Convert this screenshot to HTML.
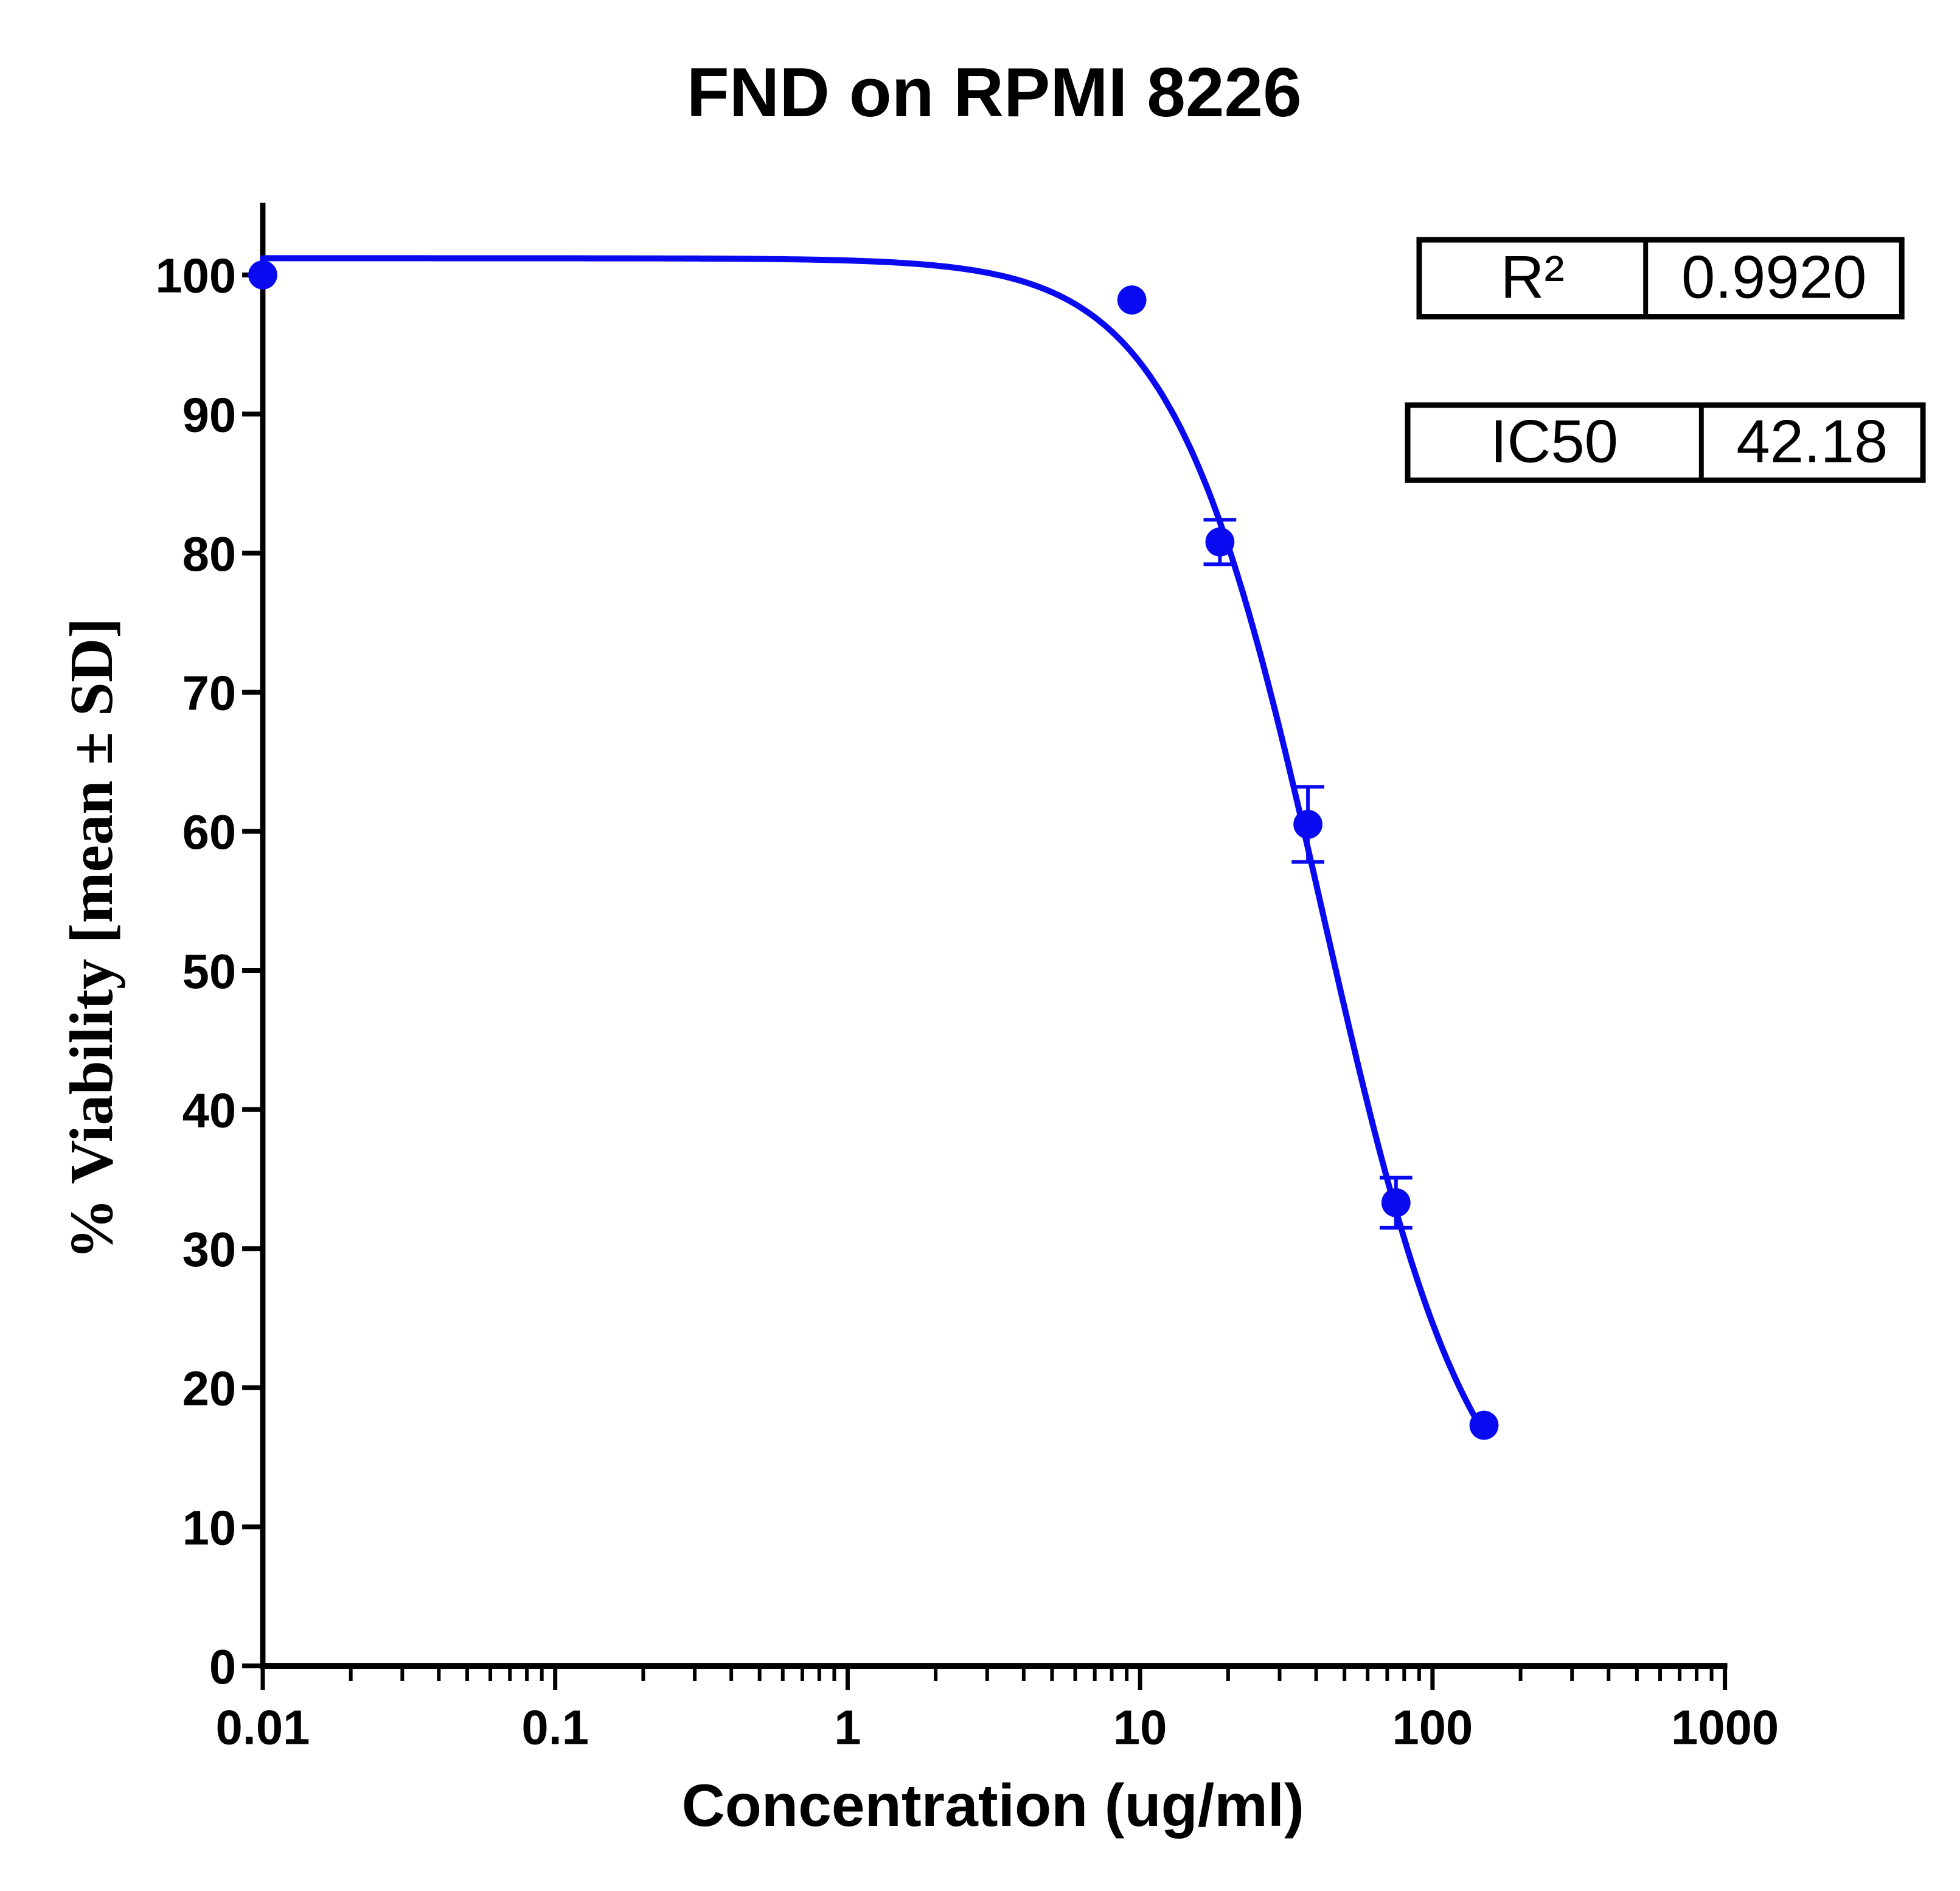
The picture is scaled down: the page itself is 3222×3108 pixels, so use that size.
<!DOCTYPE html>
<html><head><meta charset="utf-8"><style>
html,body{margin:0;padding:0;background:#fff}
svg{display:block}
</style></head><body>
<svg id="chart" xmlns="http://www.w3.org/2000/svg" width="3222" height="3108" viewBox="0 0 3222 3108">
<rect width="3222" height="3108" fill="#fff"/>
<g transform="scale(0.9953)">
<text x="1642" y="192" text-anchor="middle" font-family="Liberation Sans, sans-serif" font-weight="bold" font-size="115">FND on RPMI 8226</text>
<text transform="translate(185,1550) rotate(-90)" text-anchor="middle" font-family="Liberation Serif, serif" font-weight="bold" font-size="101">% Viability [mean ± SD]</text>
<text x="1640" y="3015" text-anchor="middle" font-family="Liberation Sans, sans-serif" font-weight="bold" font-size="99">Concentration (ug/ml)</text>
<g id="axes"></g>
<g id="marks"></g>
<g>
<rect x="2344" y="396" width="797" height="127" fill="none" stroke="#000" stroke-width="9"/>
<line x1="2718" y1="396" x2="2718" y2="523" stroke="#000" stroke-width="8"/>
<text x="2531" y="492" text-anchor="middle" font-family="Liberation Sans, sans-serif" font-size="100">R²</text>
<text x="2930" y="492" text-anchor="middle" font-family="Liberation Sans, sans-serif" font-size="100">0.9920</text>
</g>
<g>
<rect x="2325" y="669" width="851" height="124" fill="none" stroke="#000" stroke-width="9"/>
<line x1="2810" y1="669" x2="2810" y2="793" stroke="#000" stroke-width="8"/>
<text x="2567" y="763" text-anchor="middle" font-family="Liberation Sans, sans-serif" font-size="100">IC50</text>
<text x="2993" y="763" text-anchor="middle" font-family="Liberation Sans, sans-serif" font-size="100">42.18</text>
</g>
</g>
</svg>
<script>
const concentrations = [0.01, 9.375, 18.75, 37.5, 75, 150];
const viability = [100, 98.2, 80.8, 60.5, 33.3, 17.3];
const sd = [0, 0, 1.6, 2.7, 1.8, 0];
const yTicks = [0,10,20,30,40,50,60,70,80,90,100];
const xTicks = [0.01,0.1,1,10,100,1000];
const xTickLabels = ["0.01","0.1","1","10","100","1000"];
const fitTop = 101.2, fitBottom = 7, fitIC50 = 42.18, fitHill = 1.7;

const NS = "http://www.w3.org/2000/svg";
const X0 = 434, X1 = 2849, Y0 = 2751, Y100 = 454;
const xs = v => X0 + (Math.log10(v) - Math.log10(0.01)) / 5 * (X1 - X0);
const ys = v => Y0 - v / 100 * (Y0 - Y100);
function mk(tag, attrs, parent){const e=document.createElementNS(NS,tag);for(const k in attrs)e.setAttribute(k,attrs[k]);parent.appendChild(e);return e;}
const axes = document.getElementById('axes'), marks = document.getElementById('marks');

let yl = mk('line',{x1:X0,y1:335,x2:X0,y2:Y0+5,stroke:'#000','stroke-width':9},axes);


let xl = mk('line',{x1:X0-4,y1:Y0,x2:X1+4,y2:Y0,stroke:'#000','stroke-width':10},axes);



yTicks.forEach(t=>{
  const y=ys(t);
  const tk=mk('line',{x1:X0-34,y1:y,x2:X0,y2:y,stroke:'#000','stroke-width':8},axes);
  
  
  const lb=mk('text',{x:X0-44,y:y+29,'text-anchor':'end','font-family':'Liberation Sans, sans-serif','font-weight':'bold','font-size':80},axes);
  lb.textContent=t;
  
  
});
xTicks.forEach((t,i)=>{
  const x=xs(t);
  const tk=mk('line',{x1:x,y1:Y0,x2:x,y2:Y0+40,stroke:'#000','stroke-width':7},axes);
  
  
  const lb=mk('text',{x:x,y:2880,'text-anchor':'middle','font-family':'Liberation Sans, sans-serif','font-weight':'bold','font-size':80},axes);
  lb.textContent=xTickLabels[i];
  
  
  if(i<xTicks.length-1){
    for(let m=2;m<=9;m++){
      const mx=xs(t*m);
      const mt=mk('line',{x1:mx,y1:Y0,x2:mx,y2:Y0+25,stroke:'#000','stroke-width':6},axes);
      
      
    }
  }
});

let d='';
const lo=Math.log10(concentrations[0]), hi=Math.log10(concentrations[concentrations.length-1]);
for(let i=0;i<=300;i++){
  const c=Math.pow(10,lo+(hi-lo)*i/300);
  const v=fitBottom+(fitTop-fitBottom)/(1+Math.pow(c/fitIC50,fitHill));
  d+=(i?'L':'M')+xs(c).toFixed(1)+' '+ys(v).toFixed(1);
}
const cv=mk('path',{d:d,fill:'none',stroke:'#0a0af0','stroke-width':10,'stroke-linejoin':'round','stroke-linecap':'round'},marks);



concentrations.forEach((c,i)=>{
  const x=xs(c), y=ys(viability[i]);
  if(sd[i]>0){
    const yt=ys(viability[i]+sd[i]), yb=ys(viability[i]-sd[i]);
    const eb=mk('path',{d:`M${x} ${yt}L${x} ${yb}M${x-27} ${yt}L${x+27} ${yt}M${x-27} ${yb}L${x+27} ${yb}`,stroke:'#0a0af0','stroke-width':6,fill:'none'},marks);
    
    
  }
  const p=mk('circle',{cx:x,cy:y,r:24,fill:'#0a0af0'},marks);
  
  
});
</script>
</body></html>
